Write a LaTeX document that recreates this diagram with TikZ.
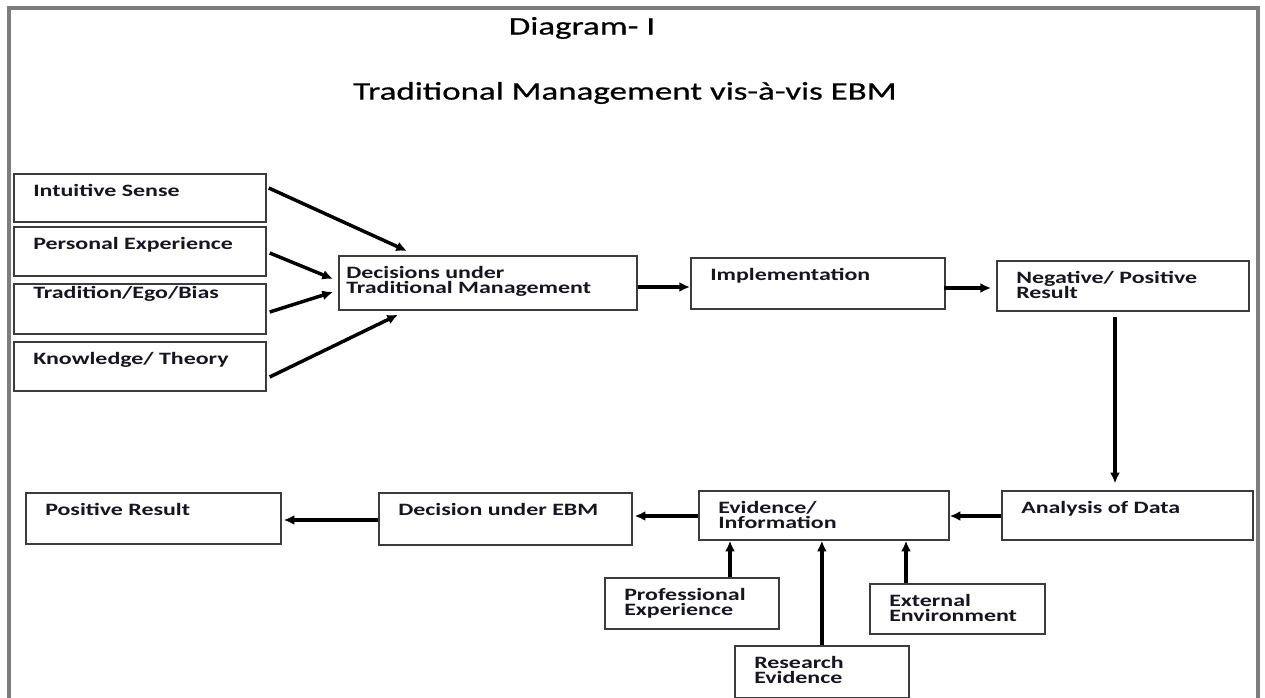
\documentclass[tikz,border=0pt]{standalone}
\usepackage{fontspec}
\setmainfont{Carlito}[FakeStretch=1.38]
\newfontfamily\headfamily{Carlito}[FakeStretch=1.38, FakeBold=0.6]
\usetikzlibrary{arrows.meta, calc}

\definecolor{ink}{RGB}{22,22,32}
\definecolor{boxline}{RGB}{60,60,60}
\definecolor{framegray}{RGB}{125,125,125}

\newcommand{\boxfont}{\fontsize{13}{11.6}\selectfont\bfseries}
\newcommand{\titlefont}{\headfamily\fontsize{19}{22}\selectfont}

\tikzset{
  blk/.style 2 args={draw=boxline, line width=1.3pt, rectangle, anchor=north west,
    inner sep=0pt, minimum width=#1*0.75pt, minimum height=#2*0.75pt},
  lbl/.style={anchor=north west, inner sep=0pt, xshift=15pt, yshift=-8pt,
    align=left, font=\boxfont, text=ink},
  arr/.style={-{Latex[length=8pt,width=7.5pt]}, line width=2.6pt, black},
}

\begin{document}
\begin{tikzpicture}[x=0.75pt, y=-0.75pt]
\useasboundingbox (0,0) rectangle (1265,698);
\fill[white] (0,0) rectangle (1265,698);
\draw[framegray, line width=3pt] (9,705) -- (9,8) -- (1258,8) -- (1258,705);

% titles
\node[font=\titlefont, text=black] (title) at (582,28) {Diagram- I};
\node[font=\titlefont, text=black] (subtitle) at (625,93) {Traditional Management vis-à-vis EBM};

% traditional side
\node[blk={252}{48}, label={[lbl]north west:Intuitive Sense}] (intuitive) at (13,173) {};
\node[blk={252}{49}, label={[lbl]north west:Personal Experience}] (personal) at (13,226) {};
\node[blk={252}{50}, label={[lbl, yshift=6pt]north west:Tradition/Ego/Bias}] (tradition) at (13,283) {};
\node[blk={252}{49}, label={[lbl]north west:Knowledge/ Theory}] (knowledge) at (13,341) {};
\node[blk={298}{54}, label={[lbl, xshift=-9pt]north west:{Decisions under\\Traditional Management}}] (dutm) at (338,255) {};
\node[blk={254}{51}, label={[lbl]north west:Implementation}] (impl) at (690,257) {};
\node[blk={252}{50}, label={[lbl]north west:{Negative/ Positive\\Result}}] (result) at (996,260) {};

% EBM side
\node[blk={251}{49}, label={[lbl]north west:Analysis of Data}] (analysis) at (1001,490) {};
\node[blk={250}{49}, label={[lbl]north west:{Evidence/\\Information}}] (evidence) at (698,490) {};
\node[blk={253}{52}, label={[lbl]north west:Decision under EBM}] (debm) at (378,492) {};
\node[blk={255}{51}, label={[lbl]north west:Positive Result}] (positive) at (25,492) {};
\node[blk={174}{51}, label={[lbl]north west:{Professional\\Experience}}] (prof) at (604,577) {};
\node[blk={174}{52}, label={[lbl]north west:{Research\\Evidence}}] (research) at (734,645) {};
\node[blk={175}{50}, label={[lbl]north west:{External\\Environment}}] (external) at (869,583) {};

% inputs to traditional decisions
\draw[arr] ($(intuitive.north east)+(2,15)$) -- ($(dutm.north west)+(69,-4)$);
\draw[arr] ($(personal.north east)+(3,27)$) -- ($(dutm.north west)+(-5,24)$);
\draw[arr] ($(tradition.north east)+(3,29)$) -- ($(dutm.north west)+(-5,37)$);
\draw[arr] ($(knowledge.north east)+(3,36)$) -- ($(dutm.south west)+(60,4)$);

% main chain
\draw[arr] ($(dutm.north east)+(0,32)$) -- ($(impl.north west)+(0,30)$);
\draw[arr] ($(impl.north east)+(-2,31)$) -- ($(result.north west)+(-5,28)$);
\coordinate (drop) at ($(result.south west)+(119,5)$);
\draw[arr, shorten >=5pt] (drop) -- (drop |- analysis.north);
\draw[arr] ($(analysis.north west)+(0,26)$) -- ($(evidence.north east)+(0,26)$);
\draw[arr] ($(evidence.north west)+(0,26)$) -- ($(debm.north east)+(2,24)$);
\draw[arr] ($(debm.north west)+(0,28)$) -- ($(positive.north east)+(2,28)$);

% evidence sources
\coordinate (pfoot) at ($(prof.north west)+(126,0)$);
\coordinate (rfoot) at (research.north);
\coordinate (efoot) at ($(external.north west)+(37,0)$);
\draw[arr] (pfoot) -- (pfoot |- evidence.south);
\draw[arr] (rfoot) -- (rfoot |- evidence.south);
\draw[arr] (efoot) -- (efoot |- evidence.south);
\end{tikzpicture}
\end{document}
